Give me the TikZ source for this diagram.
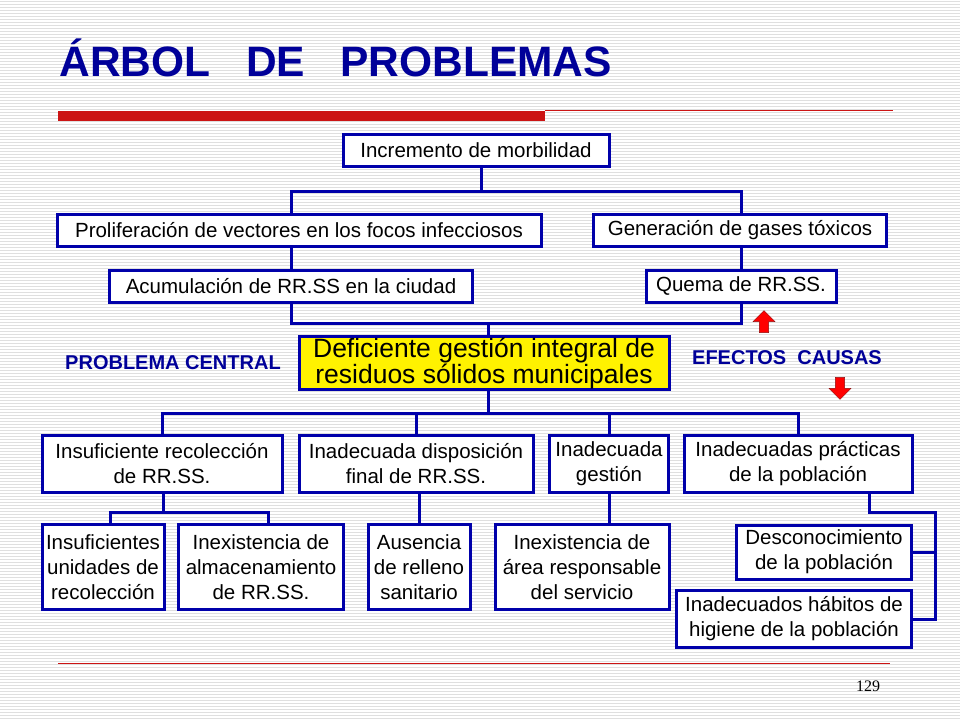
\documentclass[tikz,border=0pt]{standalone}
\usepackage{fontspec}
\setmainfont{Liberation Sans}
\newfontfamily\serifpg{Liberation Serif}
\usetikzlibrary{shapes.arrows}
\definecolor{db}{RGB}{0,0,170}
\definecolor{tb}{RGB}{0,0,153}
\definecolor{rr}{RGB}{204,20,20}
\begin{document}
\begin{tikzpicture}[x=1pt,y=-1pt,
 bx/.style={draw=db,line width=3pt,fill=white,inner sep=0pt,align=center,font=\fontsize{20.5}{25}\selectfont},
 ln/.style={draw=db,line width=3pt},
 lab/.style={text=tb,font=\bfseries\fontsize{20}{22}\selectfont}]
\useasboundingbox (0,0) rectangle (960,720);
\fill[white] (0,0) rectangle (960,720);
\foreach \i in {0,...,239}{\draw[gray!25,line width=0.8pt] (0,\i*3+1) -- (960,\i*3+1);}
\node[anchor=west,text=tb,font=\bfseries\fontsize{42.5}{46}\selectfont] (title) at (56,58) {ÁRBOL\ \ \ DE\ \ \ PROBLEMAS};
\fill[rr] (58,111) rectangle (545,121);
\draw[rr,line width=1pt] (545,110) -- (893,110);
\draw[rr,line width=1pt] (58,663) -- (890,663);
\node[font=\serifpg\fontsize{16}{18}\selectfont] (pg) at (868,686) {129};
% effects
\node[bx,minimum width=266,minimum height=32] (inc) at (476,150) {Incremento de morbilidad};
\node[bx,minimum width=484,minimum height=32] (pro) at (299,230) {Proliferación de vectores en los focos infecciosos};
\node[bx,minimum width=293,minimum height=32] (gen) at (740,230) {Generación de gases tóxicos};
\node[bx,minimum width=363,minimum height=32] (acu) at (291,286) {Acumulación de RR.SS en la ciudad};
\node[bx,minimum width=190,minimum height=32] (que) at (741,286) {Quema de RR.SS.};
\node[draw=db,line width=3pt,fill=yellow,inner sep=0pt,minimum width=370,minimum height=53,align=center,font=\fontsize{26.5}{23}\selectfont] (cen) at (484,363) {Deficiente gestión integral de\\residuos sólidos municipales};
\node[lab] (pc) at (173,363) {PROBLEMA CENTRAL};
\node[lab] (ec) at (787,358) {EFECTOS\ \ CAUSAS};
\node[single arrow,draw=rr!70!black,fill=red,shape border rotate=90,minimum height=22,minimum width=22,single arrow head extend=3pt,inner sep=2pt] (up) at (764,324) {};
\node[single arrow,draw=rr!70!black,fill=red,shape border rotate=270,minimum height=22,minimum width=22,single arrow head extend=3pt,inner sep=2pt] (dn) at (840,386) {};
% causes
\node[bx,minimum width=240,minimum height=57] (c1) at (162,464) {Insuficiente recolección\\de RR.SS.};
\node[bx,minimum width=234,minimum height=57] (c2) at (416,464) {Inadecuada disposición\\final de RR.SS.};
\node[bx,minimum width=119,minimum height=57] (c3) at (609,464) {Inadecuada\\gestión};
\node[bx,minimum width=228,minimum height=57] (c4) at (798,464) {Inadecuadas prácticas\\de la población};
\node[bx,minimum width=122,minimum height=85] (d1) at (103,567) {Insuficientes\\unidades de\\recolección};
\node[bx,minimum width=165,minimum height=85] (d2) at (261,567) {Inexistencia de\\almacenamiento\\de RR.SS.};
\node[bx,minimum width=102,minimum height=85] (d3) at (419,567) {Ausencia\\de relleno\\sanitario};
\node[bx,minimum width=174,minimum height=85] (d4) at (582,567) {Inexistencia de\\área responsable\\del servicio};
\node[bx,minimum width=175,minimum height=54] (d5) at (824,552) {Desconocimiento\\de la población};
\node[bx,minimum width=235,minimum height=57] (d6) at (794,619) {Inadecuados hábitos de\\higiene de la población};
% connectors
\coordinate (j1) at (481,193);
\coordinate (j2) at (488,322);
\coordinate (j3) at (488,413);
\coordinate (j4) at (163,512);
\coordinate (j5) at (869,512);
\coordinate (j6) at (935,512);
\draw[ln] (inc.south -| j1) -- (j1);
\draw[ln] (pro.north -| acu) -- ++(0,-21) -| (gen.north -| que);
\draw[ln] (pro.south -| acu) -- (acu.north);
\draw[ln] (gen.south -| que) -- (que.north);
\draw[ln] (acu.south) -- ++(0,20) -| (que.south);
\draw[ln] (j2) -- (cen.north -| j2);
\draw[ln] (cen.south -| j3) -- (j3);
\draw[ln] (c1.north) |- (j3) -| (c4.north);
\draw[ln] (c2.north) -- (c2.north |- j3);
\draw[ln] (c3.north) -- (c3.north |- j3);
\draw[ln] (c1.south -| j4) -- (j4);
\draw[ln] (d1.north -| 110,0) |- (j4) -| (d2.north -| 268,0);
\draw[ln] (c2.south -| d3) -- (d3.north);
\draw[ln] (c3.south) -- (d4.north -| c3);
\draw[ln] (c4.south -| j5) -- (j5) -- (j6) |- (d6.east);
\draw[ln] (j6 |- d5.east) -- (d5.east);
\end{tikzpicture}
\end{document}
